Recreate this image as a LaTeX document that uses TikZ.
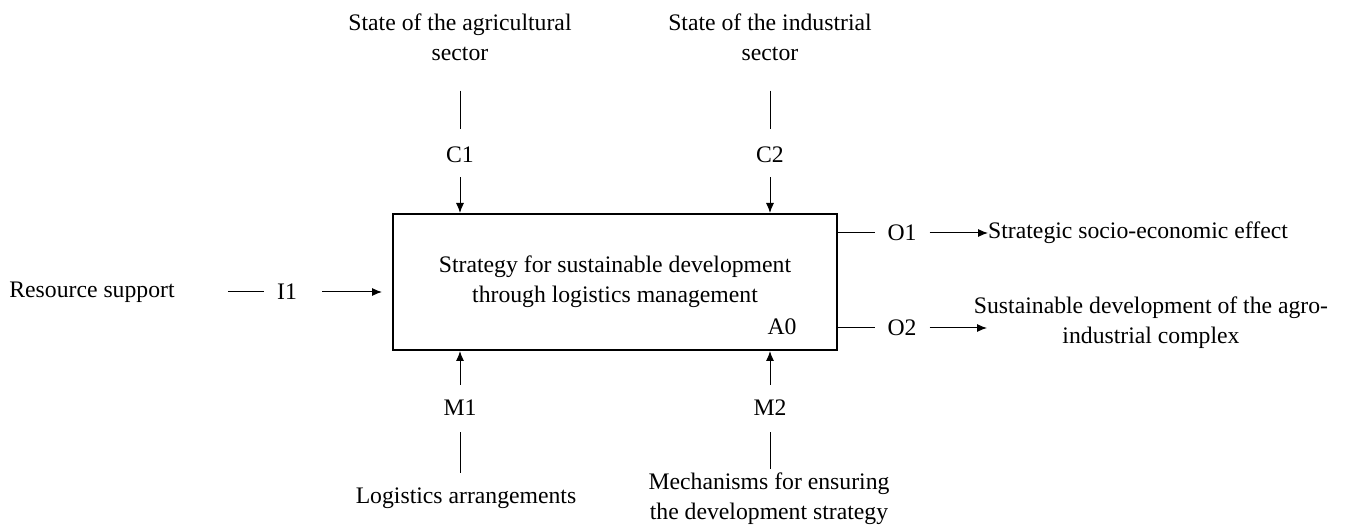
\documentclass[tikz,border=0pt]{standalone}
\usepackage{fontspec}
\setmainfont{Liberation Serif}
\usetikzlibrary{arrows.meta}
\newcommand\fsz{\fontsize{23.7}{30}\selectfont}
\begin{document}
\begin{tikzpicture}[x=1pt,y=-1pt,
  lbl/.style={font=\fsz, inner sep=0pt, align=center},
  ln/.style={line width=1pt},
  arr/.style={line width=1pt, -{Latex[length=10pt,width=8pt]}},
  fbox/.style={draw, line width=2pt, minimum width=444pt, minimum height=136pt, inner sep=0pt, align=center, font=\fsz}
]
\useasboundingbox (0,0) rectangle (1353,529);
% main box
\node[fbox] (box) at (615,282) {Strategy for sustainable development\\through logistics management};
\node[lbl] (a0) at (782,327) {A0};
% controls
\node[lbl] (tc1) at (460,37) {State of the agricultural\\sector};
\node[lbl] (tc2) at (770,37) {State of the industrial\\sector};
\node[lbl] (c1) at (460,155) {C1};
\node[lbl] (c2) at (770,155) {C2};
\draw[ln, shorten <=30pt, shorten >=18pt] (tc1.south) -- (c1.north);
\draw[ln, shorten <=30pt, shorten >=18pt] (tc2.south) -- (c2.north);
\draw[arr, shorten <=14pt] (c1.south) -- (c1.south |- box.north);
\draw[arr, shorten <=14pt] (c2.south) -- (c2.south |- box.north);
% mechanisms
\node[lbl] (m1) at (460,408) {M1};
\node[lbl] (m2) at (770,408) {M2};
\node[lbl] (bm1) at (466,498) {Logistics arrangements};
\node[lbl] (bm2) at (769,499) {Mechanisms for ensuring\\the development strategy};
\draw[arr, shorten <=15pt] (m1.north) -- (m1.north |- box.south);
\draw[arr, shorten <=15pt] (m2.north) -- (m2.north |- box.south);
\draw[ln, shorten <=16pt, shorten >=14pt] (m1.south) -- (m1.south |- bm1.north);
\draw[ln, shorten <=16pt, shorten >=4pt] (m2.south) -- (m2.south |- bm2.north);
% input
\node[lbl] (rs) at (92,292) {Resource support};
\node[lbl] (i1) at (287,292) {I1};
\draw[ln, shorten <=53pt, shorten >=13pt] (rs.east) -- (i1.west);
\draw[arr, shorten <=25pt, shorten >=10pt] (i1.east) -- (i1.east -| box.west);
% outputs
\node[lbl] (o1) at (902,233) {O1};
\node[lbl] (o2) at (902,328) {O2};
\node[lbl, anchor=west] (to1) at (988,233) {Strategic socio-economic effect};
\node[lbl] (to2) at (1151,323) {Sustainable development of the agro-\\industrial complex};
\coordinate (o2end) at (987,328);
\draw[ln, shorten >=12pt] (o1.west -| box.east) -- (o1.west);
\draw[ln, shorten >=12pt] (o2.west -| box.east) -- (o2.west);
\draw[arr, shorten <=13pt] (o1.east) -- (to1.west);
\draw[arr, shorten <=13pt] (o2.east) -- (o2end);
\end{tikzpicture}
\end{document}
